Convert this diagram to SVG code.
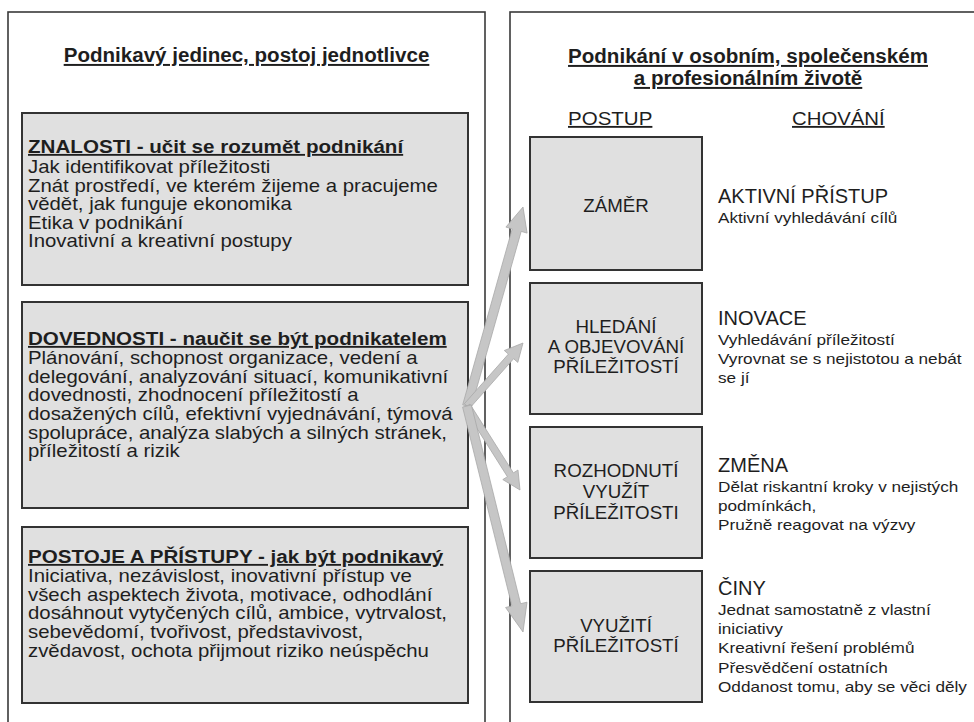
<svg xmlns="http://www.w3.org/2000/svg" width="974" height="722" viewBox="0 0 974 722">
<style>
text{font-family:"Liberation Sans",Arial,sans-serif;fill:#1e1e1e}
.outer{fill:#fff;stroke:#3a3a3a;stroke-width:1.6}
.box{fill:#e0e0e0;stroke:#333;stroke-width:2}
.hdr{font-size:19.6px;font-weight:bold;text-decoration:underline}
.ttl{font-size:18.4px;font-weight:bold;text-decoration:underline}
.body{font-size:18.2px}
.col{font-size:18.5px;text-decoration:underline}
.step{font-size:18px;text-anchor:middle}
.beh{font-size:20px}
.desc{font-size:14.8px}
.arrow{fill:#c6c6c6;stroke:#a8a8a8;stroke-width:0.8;stroke-linejoin:miter}
</style>
<rect width="974" height="722" fill="#fff"/>
<g id="left-panel">
<rect class="outer" x="8" y="12" width="477" height="730"/>
<text class="hdr" transform="translate(246.5 62) scale(1.05 1)" text-anchor="middle">Podnikavý jedinec, postoj jednotlivce</text>
</g>
<g id="right-panel">
<rect class="outer" x="510" y="12" width="480" height="730"/>
<text class="hdr" transform="translate(748 63) scale(1.05 1)" text-anchor="middle">Podnikání v osobním, společenském</text>
<text class="hdr" transform="translate(748 85) scale(1.05 1)" text-anchor="middle">a profesionálním životě</text>
<text class="col" transform="translate(568 125) scale(1.11 1)">POSTUP</text>
<text class="col" transform="translate(792 125) scale(1.1 1)">CHOVÁNÍ</text>
</g>
<g id="znalosti">
<rect class="box" x="22" y="113" width="446" height="172"/>
<g transform="translate(28 0) scale(1.12 1)">
<text class="ttl" y="153">ZNALOSTI - učit se rozumět podnikání</text>
<text class="body" y="173">Jak identifikovat příležitosti</text>
<text class="body" y="192">Znát prostředí, ve kterém žijeme a pracujeme</text>
<text class="body" y="210">vědět, jak funguje ekonomika</text>
<text class="body" y="229">Etika v podnikání</text>
<text class="body" y="247">Inovativní a kreativní postupy</text>
</g>
</g>
<g id="dovednosti">
<rect class="box" x="22" y="302" width="446" height="206"/>
<g transform="translate(28 0) scale(1.12 1)">
<text class="ttl" y="345">DOVEDNOSTI - naučit se být podnikatelem</text>
<text class="body" y="364">Plánování, schopnost organizace, vedení a</text>
<text class="body" y="383">delegování, analyzování situací, komunikativní</text>
<text class="body" y="401">dovednosti, zhodnocení příležitostí a</text>
<text class="body" y="420">dosažených cílů, efektivní vyjednávání, týmová</text>
<text class="body" y="439">spolupráce, analýza slabých a silných stránek,</text>
<text class="body" y="457">příležitostí a rizik</text>
</g>
</g>
<g id="postoje">
<rect class="box" x="22" y="527" width="446" height="176"/>
<g transform="translate(28 0) scale(1.12 1)">
<text class="ttl" y="563">POSTOJE A PŘÍSTUPY - jak být podnikavý</text>
<text class="body" y="582">Iniciativa, nezávislost, inovativní přístup ve</text>
<text class="body" y="601">všech aspektech života, motivace, odhodlání</text>
<text class="body" y="619">dosáhnout vytyčených cílů, ambice, vytrvalost,</text>
<text class="body" y="638">sebevědomí, tvořivost, představivost,</text>
<text class="body" y="657">zvědavost, ochota přijmout riziko neúspěchu</text>
</g>
</g>
<g id="zamer">
<rect class="box" x="530" y="137" width="172" height="133"/>
<text class="step" transform="translate(616 212) scale(1.04 1)">ZÁMĚR</text>
<text class="beh" x="718" y="203">AKTIVNÍ PŘÍSTUP</text>
<g transform="translate(718 0) scale(1.16 1)">
<text class="desc" y="223">Aktivní vyhledávání cílů</text>
</g>
</g>
<g id="hledani">
<rect class="box" x="530" y="283" width="172" height="131"/>
<g transform="translate(616 0) scale(1.04 1)">
<text class="step" y="333">HLEDÁNÍ</text>
<text class="step" y="353">A OBJEVOVÁNÍ</text>
<text class="step" y="373">PŘÍLEŽITOSTÍ</text>
</g>
<text class="beh" x="718" y="325">INOVACE</text>
<g transform="translate(718 0) scale(1.16 1)">
<text class="desc" y="345">Vyhledávání příležitostí</text>
<text class="desc" y="364">Vyrovnat se s nejistotou a nebát</text>
<text class="desc" y="383">se jí</text>
</g>
</g>
<g id="rozhodnuti">
<rect class="box" x="530" y="427" width="172" height="131"/>
<g transform="translate(616 0) scale(1.04 1)">
<text class="step" y="477">ROZHODNUTÍ</text>
<text class="step" y="498">VYUŽÍT</text>
<text class="step" y="519">PŘÍLEŽITOSTI</text>
</g>
<text class="beh" x="718" y="472">ZMĚNA</text>
<g transform="translate(718 0) scale(1.16 1)">
<text class="desc" y="492">Dělat riskantní kroky v nejistých</text>
<text class="desc" y="511">podmínkách,</text>
<text class="desc" y="530">Pružně reagovat na výzvy</text>
</g>
</g>
<g id="vyuziti">
<rect class="box" x="530" y="571" width="172" height="131"/>
<g transform="translate(616 0) scale(1.04 1)">
<text class="step" y="632">VYUŽITÍ</text>
<text class="step" y="652">PŘÍLEŽITOSTÍ</text>
</g>
<text class="beh" x="718" y="595">ČINY</text>
<g transform="translate(718 0) scale(1.16 1)">
<text class="desc" y="615">Jednat samostatně z vlastní</text>
<text class="desc" y="634">iniciativy</text>
<text class="desc" y="653">Kreativní řešení problémů</text>
<text class="desc" y="673">Přesvědčení ostatních</text>
<text class="desc" y="692">Oddanost tomu, aby se věci děly</text>
</g>
</g>
<g id="connectors">
<polygon class="arrow" points="462.7,404.8 512.2,228.9 505.9,227.1 523,207 527.1,233.1 521.2,231.4 471.3,407.2"/>
<polygon class="arrow" points="464.4,403.7 508.4,354.1 504.3,350.5 523,343 517.8,362.4 513.6,358.7 469.6,408.3"/>
<polygon class="arrow" points="470.0,404.1 513.4,472.9 518.0,470.0 520,490 502.8,479.6 507.4,476.7 464.0,407.9"/>
<polygon class="arrow" points="471.4,404.9 520.6,603.7 527.0,602.2 523,632 505.6,607.5 511.9,605.9 462.6,407.1"/>
</g>
</svg>
